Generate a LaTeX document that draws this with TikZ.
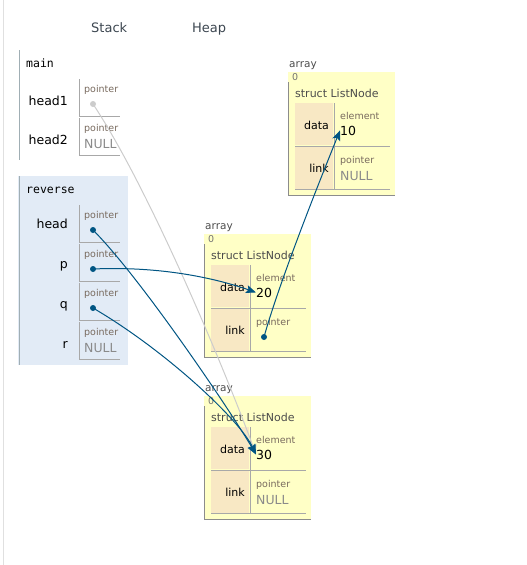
\documentclass[tikz,border=0pt]{standalone}
\usepackage{fontspec}
\setmainfont{DejaVu Sans}
\setmonofont{DejaVu Sans Mono}
\usepackage{xcolor}
\usetikzlibrary{arrows.meta}
\definecolor{framefill}{HTML}{E2EBF6}
\definecolor{frameline}{HTML}{A0AEB4}
\definecolor{cellgray}{HTML}{A8A8A8}
\definecolor{heapfill}{HTML}{FFFFC6}
\definecolor{keyfill}{HTML}{F8E8C4}
\definecolor{heapline}{HTML}{8C8C8C}
\definecolor{ptrblue}{HTML}{005583}
\definecolor{typegray}{HTML}{786A5E}
\definecolor{nullgray}{HTML}{8A8A8A}
\definecolor{headgray}{HTML}{3C4650}
\definecolor{oldptr}{HTML}{CCCCCC}
\newcommand{\pxfont}[1]{\fontsize{#1}{#1}\selectfont}
\tikzstyle{paneltitle}=[
font=\pxfont{13},
text=headgray,
anchor=base west,
inner sep=0
]
\tikzstyle{framename}=[
font=\ttfamily\pxfont{11.5},
anchor=base west,
inner sep=0
]
\tikzstyle{varname}=[
font=\pxfont{12.5},
anchor=base east,
inner sep=0
]
\tikzstyle{typelabel}=[
font=\pxfont{9.5},
text=typegray,
anchor=base west,
inner sep=0
]
\tikzstyle{nullval}=[
font=\pxfont{12.5},
text=nullgray,
anchor=base west,
inner sep=0
]
\tikzstyle{valuetext}=[
font=\pxfont{12.5},
anchor=base west,
inner sep=0
]
\tikzstyle{heaplabel}=[
font=\pxfont{10.5},
text=black!70,
anchor=base west,
inner sep=0
]
\tikzstyle{indexlabel}=[
font=\pxfont{9.5},
text=black!55,
anchor=base west,
inner sep=0
]
\tikzstyle{keylabel}=[
font=\pxfont{11},
anchor=base east,
inner sep=0
]
\tikzstyle{ptrdot}=[
circle,
fill=ptrblue,
inner sep=0,
minimum size=6pt
]
\tikzstyle{cellline}=[
draw=cellgray,
line width=1pt
]
\tikzstyle{arrow}=[
ptrblue,
line width=1pt,
-{Stealth[length=10pt,width=8pt,inset=2pt]}
]

\begin{document}
\begin{tikzpicture}[x=1pt,y=-1pt]
\useasboundingbox (0,0) rectangle (527,565);

\draw [black!12, line width=1pt] (3,0) -- (3,565);
\node (stack) [paneltitle] at (91,32) {Stack};
\node (heap) [paneltitle] at (192,32) {Heap};

% main frame
\draw [frameline, line width=1pt] (19,50) -- (19,160);
\node (mainname) [framename] at (26,67) {main};
\node (head1) [varname] at (68,105) {head1};
\node (head2) [varname] at (68,144) {head2};
\draw [cellline] (79,79) -- (79,116) -- (120,116);
\draw [cellline] (79,118) -- (79,155) -- (120,155);
\node (head1type) [typelabel] at (84,92) {pointer};
\node (head2type) [typelabel] at (84,131) {pointer};
\node (head2null) [nullval] at (84,148) {NULL};
\node (head1dot) [ptrdot, fill=oldptr] at (93,104) {};

% reverse frame
\fill [framefill] (18,176) rectangle (128,365);
\draw [frameline, line width=1pt] (19,176) -- (19,365);
\node (revname) [framename] at (26,193) {reverse};
\node (head) [varname] at (68,228) {head};
\node (p) [varname] at (68,268) {p};
\node (q) [varname] at (68,308) {q};
\node (r) [varname] at (68,348) {r};
\draw [cellline] (79,205) -- (79,242) -- (120,242);
\draw [cellline] (79,244) -- (79,281) -- (120,281);
\draw [cellline] (79,283) -- (79,320) -- (120,320);
\draw [cellline] (79,322) -- (79,359) -- (120,359);
\node (headtype) [typelabel] at (84,218) {pointer};
\node (ptype) [typelabel] at (84,257) {pointer};
\node (qtype) [typelabel] at (84,296) {pointer};
\node (rtype) [typelabel] at (84,335) {pointer};
\node (rnull) [nullval] at (84,352) {NULL};
\node (headdot) [ptrdot] at (93,230) {};
\node (pdot) [ptrdot] at (93,269) {};
\node (qdot) [ptrdot] at (93,308) {};

% heap object holding 10
\begin{scope}[shift={(288,103)}]
\fill [heapfill] (0,-31) rectangle (107,92);
\draw [heapline] (0,-21) -- (0,92) -- (107,92);
\fill [keyfill] (7,0) rectangle (45,42);
\fill [keyfill] (7,44) rectangle (45,86);
\draw [cellline] (46,0) -- (46,86);
\draw [cellline] (7,43) -- (102,43);
\draw [cellline] (7,86) -- (102,86);
\node (arr1) [heaplabel] at (1,-36) {array};
\node (idx1) [indexlabel] at (4,-23) {0};
\node (struct1) [heaplabel, font=\pxfont{11}] at (7,-6) {struct ListNode};
\node (data1) [keylabel] at (41,26) {data};
\node (link1) [keylabel] at (41,69) {link};
\node (elem1) [typelabel] at (52,16) {element};
\node (val10) [valuetext] at (52,32) {10};
\node (ptr1) [typelabel] at (52,60) {pointer};
\node (null1) [nullval] at (52,77) {NULL};
\end{scope}

% heap object holding 20
\begin{scope}[shift={(204,265)}]
\fill [heapfill] (0,-31) rectangle (107,92);
\draw [heapline] (0,-21) -- (0,92) -- (107,92);
\fill [keyfill] (7,0) rectangle (45,42);
\fill [keyfill] (7,44) rectangle (45,86);
\draw [cellline] (46,0) -- (46,86);
\draw [cellline] (7,43) -- (102,43);
\draw [cellline] (7,86) -- (102,86);
\node (arr2) [heaplabel] at (1,-36) {array};
\node (idx2) [indexlabel] at (4,-23) {0};
\node (struct2) [heaplabel, font=\pxfont{11}] at (7,-6) {struct ListNode};
\node (data2) [keylabel] at (41,26) {data};
\node (link2) [keylabel] at (41,69) {link};
\node (elem2) [typelabel] at (52,16) {element};
\node (val20) [valuetext] at (52,32) {20};
\node (ptr2) [typelabel] at (52,60) {pointer};
\node (linkdot) [ptrdot] at (60,72) {};
\end{scope}

% heap object holding 30
\begin{scope}[shift={(204,427)}]
\fill [heapfill] (0,-31) rectangle (107,92);
\draw [heapline] (0,-21) -- (0,92) -- (107,92);
\fill [keyfill] (7,0) rectangle (45,42);
\fill [keyfill] (7,44) rectangle (45,86);
\draw [cellline] (46,0) -- (46,86);
\draw [cellline] (7,43) -- (102,43);
\draw [cellline] (7,86) -- (102,86);
\node (arr3) [heaplabel] at (1,-36) {array};
\node (idx3) [indexlabel] at (4,-23) {0};
\node (struct3) [heaplabel, font=\pxfont{11}] at (7,-6) {struct ListNode};
\node (data3) [keylabel] at (41,26) {data};
\node (link3) [keylabel] at (41,69) {link};
\node (elem3) [typelabel] at (52,16) {element};
\node (val30) [valuetext] at (52,32) {30};
\node (ptr3) [typelabel] at (52,60) {pointer};
\node (null3) [nullval] at (52,77) {NULL};
\end{scope}

% pointers
\draw [arrow, oldptr] (head1dot.center) .. controls (150,190) and (225,370) .. (val30.west);
\draw [arrow] (headdot.center) .. controls (140,277) and (230,410) .. (val30.west);
\draw [arrow] (pdot.center) .. controls (160,266) and (215,278) .. (val20.west);
\draw [arrow] (qdot.center) .. controls (165,350) and (240,420) .. (val30.west);
\draw [arrow] (linkdot.center) .. controls (280,280) and (320,180) .. (val10.west);

\end{tikzpicture}
\end{document}
